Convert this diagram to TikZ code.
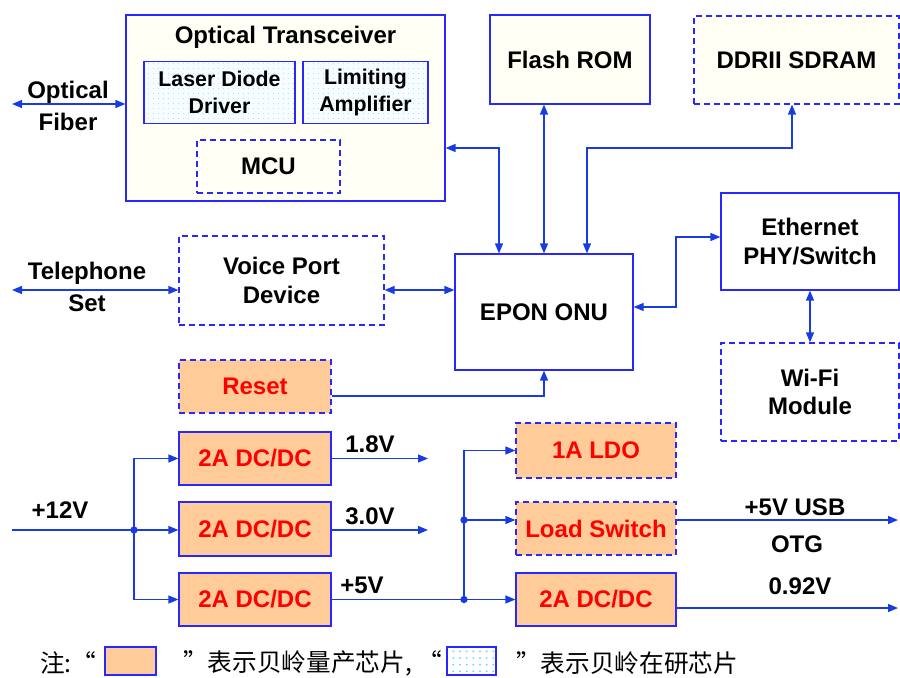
\documentclass[tikz,border=0pt]{standalone}
\usepackage{fontspec}
\setmainfont{Liberation Sans}
\newfontfamily\cjk{Noto Sans CJK SC}
\usetikzlibrary{arrows.meta,calc,patterns.meta}
\definecolor{lblue}{RGB}{25,60,225}
\definecolor{bblue}{RGB}{40,40,250}
\definecolor{cream}{RGB}{255,255,246}
\definecolor{orng}{RGB}{255,204,153}
\definecolor{dotcyan}{RGB}{110,215,250}
\begin{document}
\begin{tikzpicture}[x=0.75pt,y=-0.75pt,
  sz/.style 2 args={minimum width=#1*0.75pt, minimum height=#2*0.75pt},
  box/.style={draw=bblue, line width=0.9pt, inner sep=0pt, align=center,
    font=\bfseries\fontsize{18}{21.5}\selectfont, text=black},
  dbox/.style={box, dash pattern=on 4.5pt off 3pt},
  pwr/.style={fill=orng, text=red},
  crm/.style={fill=cream},
  dotted fill/.style={preaction={fill=cyan!3}, pattern={Dots[distance=4pt,radius=0.45pt]}, pattern color=dotcyan!60},
  lbl/.style={font=\bfseries\fontsize{18}{21.5}\selectfont, align=center, inner sep=0pt},
  wide/.style={font=\bfseries\fontsize{18}{24.5}\selectfont},
  ln/.style={draw=lblue, line width=1pt},
  arr/.style={ln, -{Triangle[length=7.5pt,width=6pt]}},
  dbl/.style={ln, {Triangle[length=7.5pt,width=6pt]}-{Triangle[length=7.5pt,width=6pt]}},
  jdot/.style={circle, fill=lblue, inner sep=0pt, minimum size=5.5pt},
  cjktxt/.style={font=\cjk\fontsize{18.5}{20}\selectfont, inner sep=0pt, anchor=west}
]
\path[use as bounding box] (0,0) rectangle (900,678);

% ---- top blocks
\node[box, crm, sz={319}{186}] (trans) at (285.5,108) {};
\node[lbl] (ttl) at (285.5,37) {Optical Transceiver};
\node[box, dotted fill, sz={151}{62}, font=\bfseries\fontsize{16}{20}\selectfont] (ldd) at (219.5,92.5) {Laser Diode\\Driver};
\node[box, dotted fill, sz={125}{62}, font=\bfseries\fontsize{16}{20}\selectfont] (lamp) at (365.5,92.5) {Limiting\\Amplifier};
\node[dbox, crm, sz={143}{53}] (mcu) at (268.5,166.5) {MCU};

\node[box, crm, sz={160}{89}] (flash) at (570,59.5) {Flash ROM};
\node[dbox, crm, sz={205}{88}] (ddr) at (796.5,60) {DDRII SDRAM};

\node[lbl, wide] (fib) at (68,106) {Optical\\Fiber};
\coordinate (fibend) at (12,104);

% ---- middle
\node[box, fill=white, sz={178}{116}] (epon) at (544,312) {EPON ONU};
\node[box, fill=white, sz={178}{97}] (eth) at (810,241.5) {Ethernet\\PHY/Switch};
\node[dbox, fill=white, sz={178}{98}] (wifi) at (810,392) {Wi-Fi\\Module};
\node[dbox, fill=white, sz={205}{89}] (voice) at (281.5,280.5) {Voice Port\\Device};
\node[lbl, wide] (tel) at (87,287) {Telephone\\Set};
\coordinate (telend) at (12,290);
\node[dbox, pwr, sz={152}{53}] (reset) at (255,386.5) {Reset};

% ---- power
\node[box, pwr, sz={152}{53}] (dc1) at (255,458.5) {2A DC/DC};
\node[box, pwr, sz={152}{54}] (dc2) at (255,529) {2A DC/DC};
\node[box, pwr, sz={152}{53}] (dc3) at (255,599.5) {2A DC/DC};
\node[dbox, pwr, sz={160}{55}] (ldo) at (596,450.5) {1A LDO};
\node[dbox, pwr, sz={160}{53}] (ls) at (596,528.5) {Load Switch};
\node[box, pwr, sz={160}{53}] (dc4) at (596,599.5) {2A DC/DC};

\node[lbl] (v12) at (60,510) {+12V};
\node[lbl] (v18) at (370,444) {1.8V};
\node[lbl] (v30) at (370,516) {3.0V};
\node[lbl] (v5) at (362,585) {+5V};
\node[lbl] (usb) at (795,507) {+5V USB};
\node[lbl] (otg) at (797,544) {OTG};
\node[lbl] (v092) at (800,586) {0.92V};

% ---- connectors (top)
\draw[dbl] (fibend) -- (fibend -| trans.west);
\coordinate (tj) at (499,148);
\draw[dbl] (tj -| trans.east) -| (tj |- epon.north);
\draw[dbl] (flash.south -| epon.north) -- (epon.north);
\coordinate (dj) at (587,148);
\coordinate (ds) at (792,104);
\draw[dbl] (ds |- ddr.south) |- (dj) -- (dj |- epon.north);
\coordinate (ej) at (676,237);
\coordinate (ee) at (633,307);
\draw[dbl] (ee -| epon.east) -| (ej) -- (ej -| eth.west);
\draw[dbl] (eth.south) -- (wifi.north);
\draw[dbl] (telend) -- (telend -| voice.west);
\draw[dbl] (telend -| voice.east) -- (telend -| epon.west);
\coordinate (rj) at (331,396);
\draw[arr] (rj -| reset.east) -| (epon.south);

% ---- connectors (power)
\coordinate (p12) at (12,530);
\node[jdot] (ja) at (134,530) {};
\draw[ln] (p12) -- (ja.center);
\draw[arr] (ja.center) |- (dc1.west);
\draw[arr] (ja.center) -- (ja.center -| dc2.west);
\draw[arr] (ja.center) |- (dc3.west);
\coordinate (o18) at (428,458.5);
\coordinate (o30) at (428,530);
\draw[arr] (dc1.east) -- (o18);
\draw[arr] (o30 -| dc2.east) -- (o30);
\node[jdot] (jb) at (464,599.5) {};
\node[jdot] (jc) at (464,520) {};
\draw[arr] (dc3.east) -- (dc4.west);
\draw[arr] (jb.center) -- (jc.center) |- (ldo.west);
\draw[arr] (jc.center) -- (jc.center -| ls.west);
\coordinate (ousb) at (898,520);
\coordinate (o092) at (898,608);
\draw[arr] (ousb -| ls.east) -- (ousb);
\draw[arr] (o092 -| dc4.east) -- (o092);

% ---- legend
\node[cjktxt] (n1) at (40,663) {注:“};
\node[draw=bblue, line width=2.2pt, fill=orng, sz={51}{28}, inner sep=0pt] (lg1) at (130.5,661) {};
\node[cjktxt] (n2) at (183,663) {”表示贝岭量产芯片, “};
\node[draw=bblue, line width=2.2pt, preaction={fill=white}, pattern={Dots[distance=5pt,radius=0.8pt]}, pattern color=dotcyan, sz={49}{28}, inner sep=0pt] (lg2) at (471.5,661) {};
\node[cjktxt] (n3) at (516,663) {”表示贝岭在研芯片};
\end{tikzpicture}
\end{document}
